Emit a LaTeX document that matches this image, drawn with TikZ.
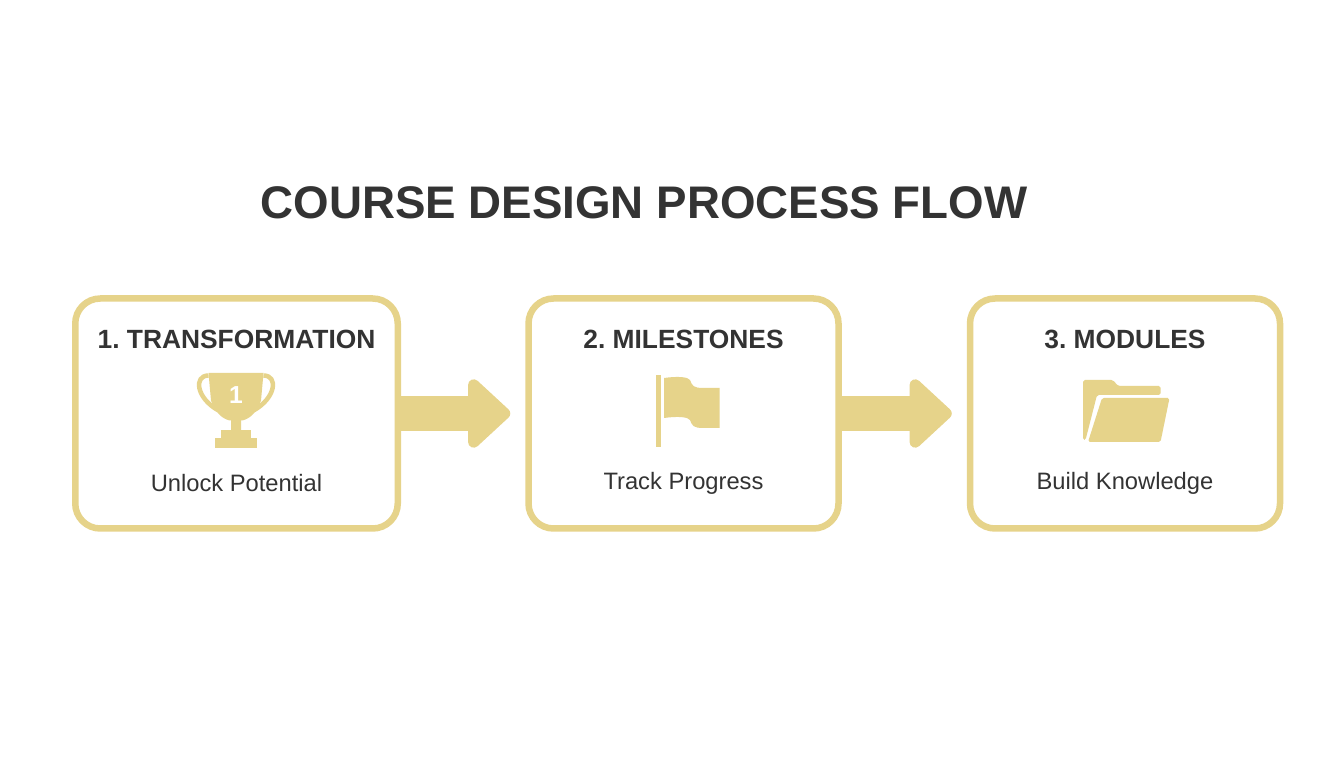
\documentclass[tikz,border=0pt]{standalone}
\usepackage{fontspec}
\setmainfont{Liberation Sans}
\frenchspacing
\usetikzlibrary{positioning,arrows.meta}
\definecolor{gold}{HTML}{E6D38A}
\definecolor{ink}{HTML}{333333}
\tikzset{
  stepbox/.style = {shape=rectangle, rounded corners=0.5cm, draw=gold,
                    line width=0.13cm, fill=white,
                    minimum height=4.6cm},
  steptitle/.style = {font=\fontsize{15}{18}\selectfont\bfseries, text=ink},
  stepsub/.style   = {font=\fontsize{13.5}{16}\selectfont, text=ink},
  flow/.style      = {draw=gold, line width=0.7cm,
                      -{Triangle[length=0.9cm,width=1.6cm,round]}, shorten >=0.3cm},
  icon/.style      = {fill=gold, draw=none}
}
\begin{document}
\begin{tikzpicture}
\useasboundingbox (0,0) rectangle (26.88,15.36);
\node (title) [font=\fontsize{26}{30}\selectfont\bfseries, text=ink] at (12.88,11.3)
  {COURSE DESIGN PROCESS FLOW};
% the three steps
\node (b1) [stepbox, minimum width=6.45cm] at (4.73,7.09) {};
\node (b2) [stepbox, minimum width=6.2cm] at (13.67,7.09) {};
\node (b3) [stepbox, minimum width=6.2cm] at (22.5,7.09) {};
\draw[flow] (b1.east) -- (b2.west);
\draw[flow] (b2.east) -- (b3.west);
\node (t1) [steptitle] at (4.73,8.58) {1. TRANSFORMATION};
\node (t2) [steptitle] at (13.67,8.58) {2. MILESTONES};
\node (t3) [steptitle] at (22.5,8.58) {3. MODULES};
\node (s1) [stepsub] at (4.73,5.7) {Unlock Potential};
\node (s2) [stepsub] at (13.67,5.7) {Track Progress};
\node (s3) [stepsub] at (22.5,5.7) {Build Knowledge};
% trophy
\begin{scope}[shift={(4.72,7.9)}]
  \draw[gold, line width=0.09cm] (-0.55,-0.05) .. controls (-0.85,-0.05) and (-0.8,-0.5) .. (-0.35,-0.75);
  \draw[gold, line width=0.09cm] (0.55,-0.05) .. controls (0.85,-0.05) and (0.8,-0.5) .. (0.35,-0.75);
  \fill[icon] (-0.55,0) -- (0.55,0) -- (0.5,-0.55) .. controls (0.4,-0.85) and (0.2,-0.95) .. (0.1,-0.95)
    -- (0.1,-1.15) -- (-0.1,-1.15) -- (-0.1,-0.95) .. controls (-0.2,-0.95) and (-0.4,-0.85) .. (-0.5,-0.55) -- cycle;
  \fill[icon] (-0.3,-1.15) rectangle (0.3,-1.3);
  \fill[icon] (-0.42,-1.3) rectangle (0.42,-1.5);
  \node[text=white, font=\bfseries\fontsize{14}{14}\selectfont] at (0,-0.45) {1};
\end{scope}
% flag
\begin{scope}[shift={(13.16,7.86)}]
  \fill[icon] (-0.05,0.0) rectangle (0.05,-1.45);
  \fill[icon] (0.12,-0.06) .. controls (0.4,-0.02) and (0.6,-0.04) .. (0.64,-0.1)
    .. controls (0.68,-0.22) and (0.72,-0.26) .. (0.9,-0.26) -- (1.23,-0.26) -- (1.23,-1.06)
    -- (0.9,-1.06) .. controls (0.72,-1.06) and (0.68,-1.02) .. (0.64,-0.9)
    .. controls (0.6,-0.84) and (0.4,-0.82) .. (0.12,-0.86) -- cycle;
\end{scope}
% folder
\begin{scope}[shift={(21.66,7.76)}]
  \fill[icon, rounded corners=1pt] (0,-1.2) -- (0,0.0) -- (0.6,0.0) -- (0.7,-0.12) -- (1.55,-0.12) -- (1.55,-0.3) -- (0.28,-0.3) -- (0.05,-1.2) -- cycle;
  \fill[icon, rounded corners=1pt] (0.1,-1.24) -- (0.38,-0.36) -- (1.73,-0.36) -- (1.55,-1.24) -- cycle;
\end{scope}
\end{tikzpicture}
\end{document}
